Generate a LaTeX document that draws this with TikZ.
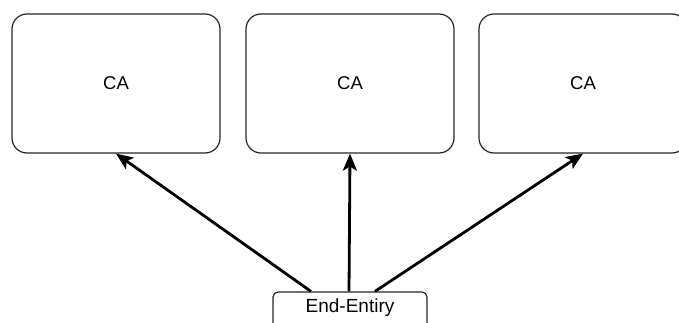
\documentclass[tikz,border=0pt]{standalone}
\usepackage{fontspec}
\setmainfont{Liberation Sans}
\usetikzlibrary{arrows.meta,calc}
\begin{document}
\begin{tikzpicture}[x=1pt,y=-1pt,
  cabox/.style={draw=black!85,line width=1.2pt,rounded corners=15pt,
    minimum width=208pt,minimum height=139pt,inner sep=0pt,
    font=\fontsize{18.5}{20}\selectfont},
  eebox/.style={draw=black!85,line width=1.2pt,rounded corners=5pt,
    minimum width=154pt,minimum height=38pt,inner sep=0pt},
  link/.style={line width=2.8pt,-{Stealth[length=17pt,width=14pt,inset=4pt]}}]
  \useasboundingbox (0,0) rectangle (679,323);
  % certificate authorities
  \node[cabox] (ca1) at (116,83.5) {CA};
  \node[cabox] (ca2) at (350,83.5) {CA};
  \node[cabox] (ca3) at (583,83.5) {CA};
  % end entity, partly below the lower edge
  \node[eebox] (ee) at (350,311) {};
  \node[font=\fontsize{19}{21}\selectfont] (eetext) at (350,307.5) {End-Entiry};
  % links from the end entity up to each CA
  \draw[link] ($(ee.north)+(-39,0)$) -- (ca1.south);
  \draw[link] ($(ee.north)+(-1,0)$) -- (ca2.south);
  \draw[link] ($(ee.north)+(25,0)$) -- (ca3.south);
\end{tikzpicture}
\end{document}
